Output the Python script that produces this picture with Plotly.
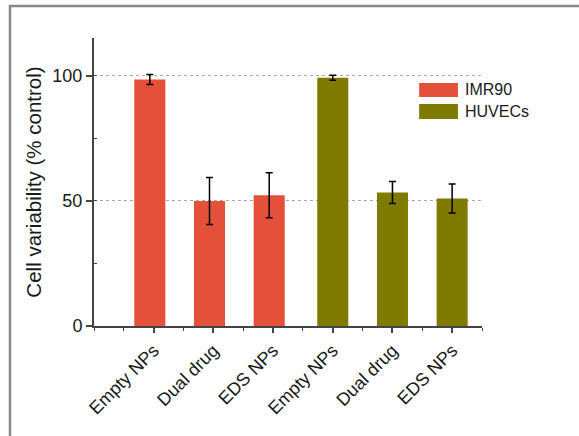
import plotly.graph_objects as go

categories = ["Empty NPs", "Dual drug", "EDS NPs", "Empty NPs", "Dual drug", "EDS NPs"]
positions = [1, 2, 3, 4, 5, 6]
series_names = ["IMR90", "HUVECs"]
imr90_values = [98.4, 49.9, 52.2]
imr90_errors = [2.0, 9.4, 9.0]
huvec_values = [99.1, 53.3, 50.9]
huvec_errors = [1.0, 4.4, 5.8]
colors = ["#E4503A", "#7F7B00"]
y_ticks = [0, 50, 100]

fig = go.Figure()
fig.add_trace(go.Bar(
    x=positions[:3], y=imr90_values, name=series_names[0], width=0.52, offset=-0.325,
    marker=dict(color=colors[0], line=dict(width=0)),
    error_y=dict(type="data", array=imr90_errors, color="black", thickness=1.5, width=3.5),
    showlegend=False,
))
fig.add_trace(go.Bar(
    x=positions[3:], y=huvec_values, name=series_names[1], width=0.52,
    marker=dict(color=colors[1], line=dict(width=0)),
    error_y=dict(type="data", array=huvec_errors, color="black", thickness=1.5, width=3.5),
    showlegend=False,
))

font_family = "Arial, Liberation Sans, sans-serif"

fig.update_layout(
    width=579, height=436,
    margin=dict(l=94, r=97, t=38, b=110),
    paper_bgcolor="white", plot_bgcolor="white",
    font=dict(family=font_family, color="#1a1a1a"),
)
fig.update_xaxes(
    range=[0, 6.5], tickvals=positions, ticktext=categories, tickangle=-45,
    tickfont=dict(size=18, family=font_family, color="#1a1a1a"),
    showline=True, linecolor="#444", linewidth=2,
    ticks="outside", ticklen=5, tickwidth=1.5, tickcolor="#444",
    minor=dict(tick0=0, dtick=0.5, ticks="outside", ticklen=3, tickwidth=1.2, tickcolor="#444"),
    showgrid=False, zeroline=False,
)
fig.update_yaxes(
    range=[0, 115], tickvals=y_ticks,
    tickfont=dict(size=18, family=font_family, color="#1a1a1a"),
    showline=True, linecolor="#444", linewidth=2,
    ticks="outside", ticklen=6, tickwidth=1.5, tickcolor="#444",
    minor=dict(tick0=0, dtick=25, ticks="inside", ticklen=3, tickwidth=1.2, tickcolor="#444", showgrid=False),
    showgrid=True, gridcolor="#aaaaaa", griddash="dot", gridwidth=1,
    zeroline=False,
    title=dict(text="Cell variability (% control)", font=dict(size=20.5, family=font_family, color="#1a1a1a"), standoff=5),
)

# outer frame
fig.add_shape(type="rect", xref="paper", yref="paper", x0=-0.2165, x1=1.4, y0=-0.6, y1=1.111,
              line=dict(color="#888888", width=2.5), fillcolor="rgba(0,0,0,0)", layer="below")

# manual legend
legend_y = [(0.844, 0.795), (0.771, 0.719)]
for name, col, (ytop, ybot) in zip(series_names, colors, legend_y):
    fig.add_shape(type="rect", xref="paper", yref="paper", x0=0.838, x1=0.938, y0=ybot, y1=ytop,
                  line=dict(width=0), fillcolor=col)
    fig.add_annotation(xref="paper", yref="paper", x=0.952, y=(ytop + ybot) / 2, text=name,
                       showarrow=False, xanchor="left", yanchor="middle",
                       font=dict(size=16, family=font_family, color="#1a1a1a"))

fig.write_html("out.html", config={"displayModeBar": False},
               post_script="document.body.style.margin='0px';")
